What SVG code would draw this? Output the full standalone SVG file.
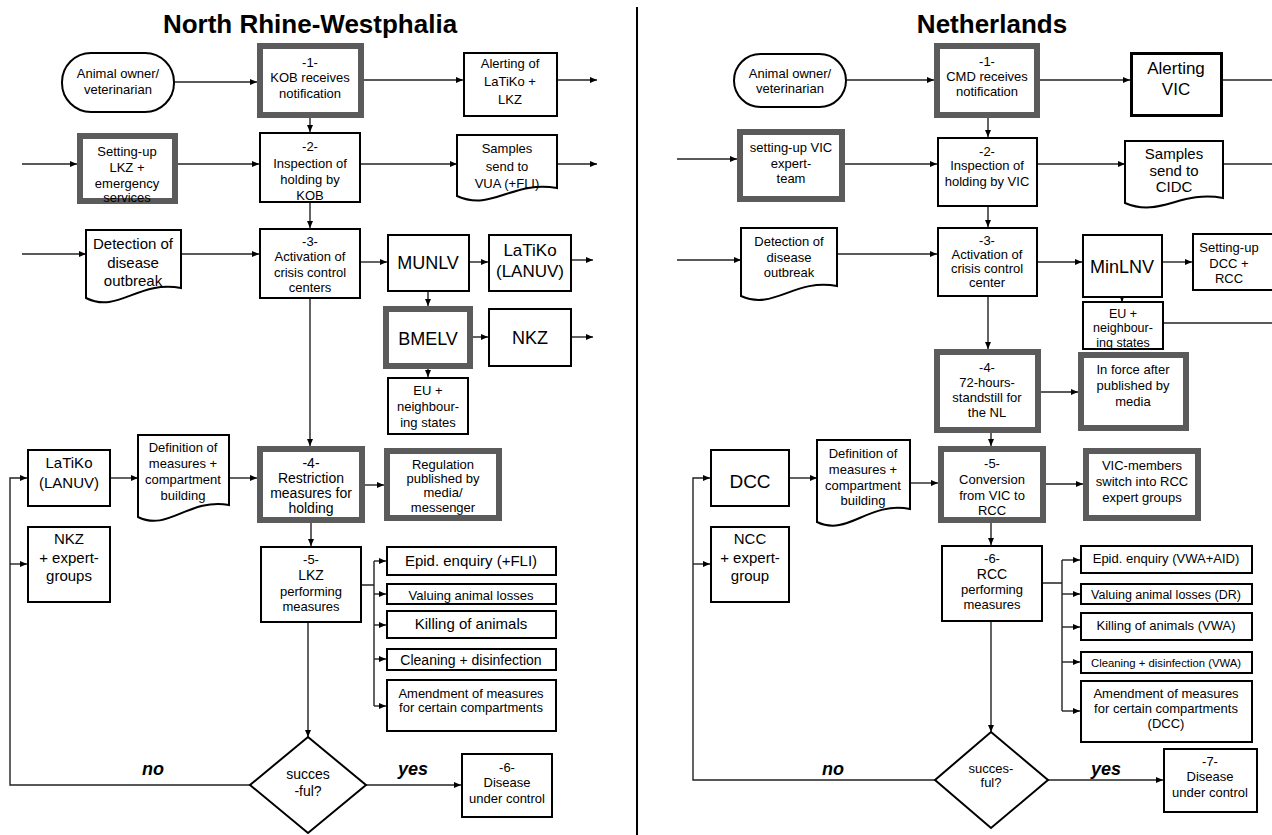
<svg xmlns="http://www.w3.org/2000/svg" width="1272" height="835" viewBox="0 0 1272 835">
<style>
text{font-family:"Liberation Sans",Arial,sans-serif;fill:#000;text-anchor:middle}
.ttl{font-size:26px;font-weight:bold}
.f11{font-size:11.3px}.f12{font-size:12.5px}.f13{font-size:13px}.f14{font-size:14px}.f15{font-size:15px}.f17{font-size:17px}.f18{font-size:18px}.f19{font-size:19px}
.yn{font-size:18px;font-weight:bold;font-style:italic}
.b{fill:#fff;stroke:#000;stroke-width:2}
.b3{fill:#fff;stroke:#000;stroke-width:3}
.g{fill:#fff;stroke:#5b5b5b;stroke-width:6}
.c{fill:none;stroke:#222;stroke-width:1.4}
.a{fill:none;stroke:#222;stroke-width:1.4;marker-end:url(#ar)}
</style>
<defs>
<marker id="ar" markerUnits="userSpaceOnUse" markerWidth="8" markerHeight="8" refX="7" refY="4" orient="auto">
<path d="M0,1 L7,4 L0,7 Z" fill="#000"/>
</marker>
</defs>
<rect width="1272" height="835" fill="#fff"/>
<text class="ttl" x="310" y="33">North Rhine-Westphalia</text>
<text class="ttl" x="992" y="33">Netherlands</text>
<line x1="637" y1="7" x2="637" y2="835" stroke="#000" stroke-width="2"/>

<g id="connectors">
<!-- left -->
<path class="a" d="M174,82 H257"/>
<path class="a" d="M364,80 H463"/>
<path class="a" d="M558,80 H597"/>
<path class="a" d="M310,118 V132"/>
<path class="a" d="M22,164 H77"/>
<path class="a" d="M178,164 H259"/>
<path class="a" d="M361,164 H457"/>
<path class="a" d="M557,164 H597"/>
<path class="a" d="M310,203 V228"/>
<path class="a" d="M22,254 H86"/>
<path class="a" d="M181,254 H259"/>
<path class="a" d="M361,262 H387"/>
<path class="a" d="M470,262 H488"/>
<path class="a" d="M572,260 H593"/>
<path class="a" d="M428,292 V306"/>
<path class="a" d="M473,337 H488"/>
<path class="a" d="M572,337 H593"/>
<path class="a" d="M428,369 V377"/>
<path class="a" d="M310,299 V446"/>
<path class="a" d="M111,478 H138"/>
<path class="a" d="M229,478 H257"/>
<path class="a" d="M365,485 H384"/>
<path class="a" d="M311,523 V546"/>
<path class="c" d="M362,585 H374 M374,561 V706"/>
<path class="a" d="M374,561 H386"/>
<path class="a" d="M374,594 H386"/>
<path class="a" d="M374,625 H386"/>
<path class="a" d="M374,659 H386"/>
<path class="a" d="M374,706 H386"/>
<path class="a" d="M308,623 V737"/>
<path class="a" d="M366,785 H461"/>
<path class="a" d="M250,785 H10 V478 H27"/>
<path class="a" d="M10,564 H27"/>
<!-- right -->
<path class="a" d="M847,80 H934"/>
<path class="a" d="M1040,80 H1130"/>
<path class="c" d="M1223,80 H1272"/>
<path class="a" d="M988,118 V137"/>
<path class="a" d="M677,159 H737"/>
<path class="a" d="M845,164 H937"/>
<path class="a" d="M1038,164 H1125"/>
<path class="c" d="M1223,164 H1272"/>
<path class="a" d="M988,207 V227"/>
<path class="a" d="M677,260 H741"/>
<path class="a" d="M837,254 H937"/>
<path class="a" d="M1038,262 H1082"/>
<path class="a" d="M1163,262 H1192"/>
<path class="a" d="M1122,296 V302"/>
<path class="c" d="M1164,323 H1272"/>
<path class="a" d="M988,297 V349"/>
<path class="a" d="M1041,392 H1078"/>
<path class="a" d="M991,433 V446"/>
<path class="a" d="M790,478 H817"/>
<path class="a" d="M910,483 H938"/>
<path class="a" d="M1046,484 H1083"/>
<path class="a" d="M991,523 V545"/>
<path class="c" d="M1043,583 H1062 M1062,560 V711"/>
<path class="a" d="M1062,560 H1080"/>
<path class="a" d="M1062,594 H1080"/>
<path class="a" d="M1062,627 H1080"/>
<path class="a" d="M1062,662 H1080"/>
<path class="a" d="M1062,711 H1080"/>
<path class="a" d="M991,622 V732"/>
<path class="a" d="M1048,780 H1163"/>
<path class="a" d="M935,780 H693 V478 H710"/>
<path class="a" d="M693,564 H710"/>
</g>

<!-- LEFT NODES -->
<g id="l-owner"><rect class="b" x="62" y="53" width="112" height="59" rx="29"/><text class="f13" x="118" y="78">Animal owner/</text><text class="f13" x="118" y="94">veterinarian</text></g>
<g id="l-1"><rect class="g" x="260" y="46" width="101" height="69"/><text class="f13" x="310" y="67">-1-</text><text class="f13" x="310" y="82">KOB receives</text><text class="f13" x="310" y="98">notification</text></g>
<g id="l-alert"><rect class="b" x="464" y="53" width="93" height="63"/><text class="f13" x="510" y="68">Alerting of</text><text class="f13" x="510" y="86">LaTiKo +</text><text class="f13" x="510" y="104">LKZ</text></g>
<g id="l-2"><rect class="b" x="260" y="133" width="100" height="69"/><text class="f13" x="310" y="151">-2-</text><text class="f13" x="310" y="168">Inspection of</text><text class="f13" x="310" y="184">holding by</text><text class="f13" x="310" y="200">KOB</text></g>
<g id="l-setup"><rect class="g" x="80" y="136" width="95" height="65"/><text class="f13" x="127" y="156">Setting-up</text><text class="f13" x="127" y="172">LKZ +</text><text class="f13" x="127" y="188">emergency</text><text class="f13" x="127" y="202">services</text></g>
<g id="l-samples"><path class="b" d="M457,135 H557 V188 C512,180 492,212 457,196 Z"/><text class="f13" x="507" y="153">Samples</text><text class="f13" x="507" y="171">send to</text><text class="f13" x="507" y="188">VUA (+FLI)</text></g>
<g id="l-detect"><path class="b" d="M86,230 H181 V288 C138,280 118,314 86,298 Z"/><text class="f15" x="133" y="249">Detection of</text><text class="f15" x="133" y="268">disease</text><text class="f15" x="133" y="286">outbreak</text></g>
<g id="l-3"><rect class="b" x="260" y="229" width="100" height="69"/><text class="f13" x="310" y="246">-3-</text><text class="f13" x="310" y="261">Activation of</text><text class="f13" x="310" y="277">crisis control</text><text class="f13" x="310" y="292">centers</text></g>
<g id="l-munlv"><rect class="b" x="388" y="235" width="81" height="56"/><text class="f18" x="428" y="269">MUNLV</text></g>
<g id="l-latiko1"><rect class="b" x="489" y="235" width="82" height="56"/><text class="f17" x="530" y="256">LaTiKo</text><text class="f17" x="530" y="277">(LANUV)</text></g>
<g id="l-bmelv"><rect class="g" x="386" y="309" width="84" height="57"/><text class="f18" x="428" y="345">BMELV</text></g>
<g id="l-nkz1"><rect class="b" x="489" y="309" width="82" height="57"/><text class="f18" x="530" y="344">NKZ</text></g>
<g id="l-eu"><rect class="b" x="388" y="378" width="80" height="56"/><text class="f13" x="428" y="395">EU +</text><text class="f13" x="428" y="411">neighbour-</text><text class="f13" x="428" y="427">ing states</text></g>
<g id="l-latiko2"><rect class="b" x="28" y="450" width="82" height="56"/><text class="f15" x="69" y="468">LaTiKo</text><text class="f15" x="69" y="488">(LANUV)</text></g>
<g id="l-def"><path class="b" d="M138,435 H229 V505 C188,498 168,532 138,517 Z"/><text class="f13" x="183" y="452">Definition of</text><text class="f13" x="183" y="468">measures +</text><text class="f13" x="183" y="484">compartment</text><text class="f13" x="183" y="500">building</text></g>
<g id="l-4"><rect class="g" x="260" y="449" width="102" height="71"/><text class="f14" x="311" y="468">-4-</text><text class="f14" x="311" y="483">Restriction</text><text class="f14" x="311" y="498">measures for</text><text class="f14" x="311" y="513">holding</text></g>
<g id="l-reg"><rect class="g" x="387" y="451" width="112" height="67"/><text class="f13" x="443" y="469">Regulation</text><text class="f13" x="443" y="483">published by</text><text class="f13" x="443" y="497">media/</text><text class="f13" x="443" y="512">messenger</text></g>
<g id="l-nkz2"><rect class="b" x="28" y="527" width="82" height="75"/><text class="f15" x="69" y="544">NKZ</text><text class="f15" x="69" y="563">+ expert-</text><text class="f15" x="69" y="581">groups</text></g>
<g id="l-5"><rect class="b" x="261" y="547" width="100" height="75"/><text class="f13" x="311" y="564">-5-</text><text class="f14" x="311" y="580">LKZ</text><text class="f13" x="311" y="596">performing</text><text class="f13" x="311" y="611">measures</text></g>
<g id="l-epid"><rect class="b" x="387" y="547" width="169" height="28"/><text class="f15" x="471" y="566">Epid. enquiry (+FLI)</text></g>
<g id="l-val"><rect class="b" x="387" y="584" width="169" height="20"/><text class="f13" x="471" y="600">Valuing animal losses</text></g>
<g id="l-kill"><rect class="b" x="387" y="611" width="169" height="27"/><text class="f15" x="471" y="629">Killing of animals</text></g>
<g id="l-clean"><rect class="b" x="387" y="649" width="169" height="21"/><text class="f14" x="471" y="665">Cleaning + disinfection</text></g>
<g id="l-amend"><rect class="b" x="387" y="680" width="169" height="51"/><text class="f13" x="471" y="698">Amendment of measures</text><text class="f13" x="471" y="712">for certain compartments</text></g>
<g id="l-dec"><path class="b" d="M308,737 L366,785 L308,833 L250,785 Z"/><text class="f14" x="308" y="779">succes</text><text class="f14" x="308" y="796">-ful?</text></g>
<text class="yn" x="153" y="775">no</text>
<text class="yn" x="413" y="775">yes</text>
<g id="l-6"><rect class="b" x="462" y="754" width="90" height="63"/><text class="f13" x="507" y="772">-6-</text><text class="f13" x="507" y="787">Disease</text><text class="f13" x="507" y="803">under control</text></g>

<!-- RIGHT NODES -->
<g id="r-owner"><rect class="b" x="734" y="54" width="112" height="53" rx="26.5"/><text class="f13" x="790" y="78">Animal owner/</text><text class="f13" x="790" y="93">veterinarian</text></g>
<g id="r-1"><rect class="g" x="937" y="46" width="100" height="69"/><text class="f13" x="987" y="66">-1-</text><text class="f13" x="987" y="81">CMD receives</text><text class="f13" x="987" y="96">notification</text></g>
<g id="r-alert"><rect class="b3" x="1131.5" y="53.5" width="90" height="62"/><text class="f17" x="1176" y="74">Alerting</text><text class="f17" x="1176" y="95">VIC</text></g>
<g id="r-2"><rect class="b" x="938" y="138" width="99" height="68"/><text class="f13" x="987" y="156">-2-</text><text class="f13" x="987" y="170">Inspection of</text><text class="f13" x="987" y="186">holding by VIC</text></g>
<g id="r-setup"><rect class="g" x="740" y="132" width="102" height="67"/><text class="f13" x="791" y="152">setting-up VIC</text><text class="f13" x="791" y="168">expert-</text><text class="f13" x="791" y="183">team</text></g>
<g id="r-samples"><path class="b" d="M1125,141 H1223 V198 C1180,190 1160,218 1125,203 Z"/><text class="f15" x="1174" y="159">Samples</text><text class="f15" x="1174" y="176">send to</text><text class="f15" x="1174" y="192">CIDC</text></g>
<g id="r-detect"><path class="b" d="M741,228 H837 V286 C794,278 774,311 741,296 Z"/><text class="f13" x="789" y="246">Detection of</text><text class="f13" x="789" y="262">disease</text><text class="f13" x="789" y="277">outbreak</text></g>
<g id="r-3"><rect class="b" x="938" y="228" width="99" height="68"/><text class="f13" x="987" y="245">-3-</text><text class="f13" x="987" y="259">Activation of</text><text class="f13" x="987" y="273">crisis control</text><text class="f13" x="987" y="287">center</text></g>
<g id="r-minlnv"><rect class="b" x="1083" y="235" width="79" height="62"/><text class="f18" x="1122" y="273">MinLNV</text></g>
<g id="r-dccrcc"><rect class="b" x="1193" y="234" width="90" height="56"/><text class="f13" x="1229" y="252">Setting-up</text><text class="f13" x="1229" y="268">DCC +</text><text class="f13" x="1229" y="283">RCC</text></g>
<g id="r-eu"><rect class="b" x="1083" y="302" width="80" height="47"/><text class="f12" x="1123" y="318">EU +</text><text class="f12" x="1123" y="332">neighbour-</text><text class="f12" x="1123" y="347">ing states</text></g>
<g id="r-4"><rect class="g" x="937" y="352" width="101" height="78"/><text class="f13" x="987" y="372">-4-</text><text class="f13" x="987" y="387">72-hours-</text><text class="f13" x="987" y="402">standstill for</text><text class="f13" x="987" y="417">the NL</text></g>
<g id="r-force"><rect class="g" x="1081" y="355" width="105" height="73"/><text class="f13" x="1133" y="374">In force after</text><text class="f13" x="1133" y="390">published by</text><text class="f13" x="1133" y="406">media</text></g>
<g id="r-dcc"><rect class="b" x="711" y="450" width="78" height="56"/><text class="f19" x="750" y="488">DCC</text></g>
<g id="r-def"><path class="b" d="M817,440 H910 V509 C868,501 848,537 817,522 Z"/><text class="f13" x="863" y="458">Definition of</text><text class="f13" x="863" y="474">measures +</text><text class="f13" x="863" y="490">compartment</text><text class="f13" x="863" y="505">building</text></g>
<g id="r-5"><rect class="g" x="941" y="449" width="102" height="71"/><text class="f13" x="992" y="468">-5-</text><text class="f13" x="992" y="484">Conversion</text><text class="f13" x="992" y="500">from VIC to</text><text class="f13" x="992" y="515">RCC</text></g>
<g id="r-vicm"><rect class="g" x="1086" y="451" width="112" height="67"/><text class="f13" x="1142" y="470">VIC-members</text><text class="f13" x="1142" y="486">switch into RCC</text><text class="f13" x="1142" y="502">expert groups</text></g>
<g id="r-ncc"><rect class="b" x="711" y="527" width="78" height="75"/><text class="f15" x="750" y="544">NCC</text><text class="f15" x="750" y="563">+ expert-</text><text class="f15" x="750" y="581">group</text></g>
<g id="r-6"><rect class="b" x="942" y="546" width="100" height="75"/><text class="f13" x="992" y="563">-6-</text><text class="f14" x="992" y="579">RCC</text><text class="f13" x="992" y="594">performing</text><text class="f13" x="992" y="609">measures</text></g>
<g id="r-epid"><rect class="b" x="1081" y="546" width="171" height="27"/><text class="f13" x="1166" y="563">Epid. enquiry (VWA+AID)</text></g>
<g id="r-val"><rect class="b" x="1081" y="584" width="171" height="20"/><text class="f12" x="1166" y="599">Valuing animal losses (DR)</text></g>
<g id="r-kill"><rect class="b" x="1081" y="613" width="171" height="27"/><text class="f13" x="1166" y="630">Killing of animals (VWA)</text></g>
<g id="r-clean"><rect class="b" x="1081" y="652" width="171" height="21"/><text class="f11" x="1166" y="667">Cleaning + disinfection (VWA)</text></g>
<g id="r-amend"><rect class="b" x="1081" y="681" width="171" height="61"/><text class="f13" x="1166" y="698">Amendment of measures</text><text class="f13" x="1166" y="713">for certain compartments</text><text class="f13" x="1166" y="728">(DCC)</text></g>
<g id="r-dec"><path class="b" d="M991,732 L1048,780 L991,828 L935,780 Z"/><text class="f13" x="991" y="773">succes-</text><text class="f13" x="991" y="787">ful?</text></g>
<text class="yn" x="833" y="775">no</text>
<text class="yn" x="1106" y="775">yes</text>
<g id="r-7"><rect class="b" x="1164" y="749" width="93" height="63"/><text class="f13" x="1210" y="766">-7-</text><text class="f13" x="1210" y="781">Disease</text><text class="f13" x="1210" y="797">under control</text></g>
</svg>
